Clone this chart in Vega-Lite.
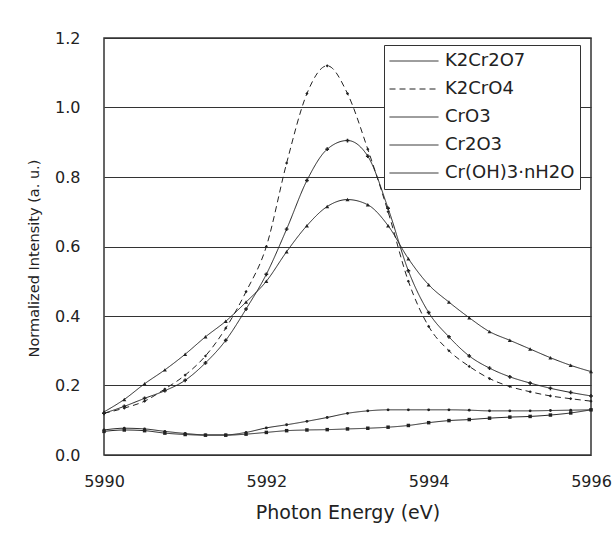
{
  "$schema": "https://vega.github.io/schema/vega-lite/v6.json",
  "autosize": {"type": "none"},
  "padding": {"left": 104, "top": 38, "right": 21, "bottom": 82},
  "width": 487,
  "height": 417,
  "background": "white",
  "config": {
    "font": "DejaVu Sans",
    "view": {"stroke": "#333", "strokeWidth": 1.5},
    "axis": {"labelColor": "#222", "titleColor": "#222", "labelFont": "DejaVu Sans", "titleFont": "DejaVu Sans", "titleFontWeight": "normal", "labelFontSize": 16}
  },
  "data": {"values": [
    {"series": "K2Cr2O7", "x": 5990, "y": 0.12},
    {"series": "K2Cr2O7", "x": 5990.25, "y": 0.14},
    {"series": "K2Cr2O7", "x": 5990.5, "y": 0.163},
    {"series": "K2Cr2O7", "x": 5990.75, "y": 0.185},
    {"series": "K2Cr2O7", "x": 5991, "y": 0.215},
    {"series": "K2Cr2O7", "x": 5991.25, "y": 0.265},
    {"series": "K2Cr2O7", "x": 5991.5, "y": 0.33},
    {"series": "K2Cr2O7", "x": 5991.75, "y": 0.42},
    {"series": "K2Cr2O7", "x": 5992, "y": 0.52},
    {"series": "K2Cr2O7", "x": 5992.25, "y": 0.65},
    {"series": "K2Cr2O7", "x": 5992.5, "y": 0.79},
    {"series": "K2Cr2O7", "x": 5992.75, "y": 0.88},
    {"series": "K2Cr2O7", "x": 5993, "y": 0.905},
    {"series": "K2Cr2O7", "x": 5993.25, "y": 0.86},
    {"series": "K2Cr2O7", "x": 5993.5, "y": 0.71},
    {"series": "K2Cr2O7", "x": 5993.75, "y": 0.53},
    {"series": "K2Cr2O7", "x": 5994, "y": 0.41},
    {"series": "K2Cr2O7", "x": 5994.25, "y": 0.34},
    {"series": "K2Cr2O7", "x": 5994.5, "y": 0.285},
    {"series": "K2Cr2O7", "x": 5994.75, "y": 0.25},
    {"series": "K2Cr2O7", "x": 5995, "y": 0.225},
    {"series": "K2Cr2O7", "x": 5995.25, "y": 0.207},
    {"series": "K2Cr2O7", "x": 5995.5, "y": 0.192},
    {"series": "K2Cr2O7", "x": 5995.75, "y": 0.18},
    {"series": "K2Cr2O7", "x": 5996, "y": 0.17},

    {"series": "K2CrO4", "x": 5990, "y": 0.12},
    {"series": "K2CrO4", "x": 5990.25, "y": 0.135},
    {"series": "K2CrO4", "x": 5990.5, "y": 0.155},
    {"series": "K2CrO4", "x": 5990.75, "y": 0.19},
    {"series": "K2CrO4", "x": 5991, "y": 0.23},
    {"series": "K2CrO4", "x": 5991.25, "y": 0.285},
    {"series": "K2CrO4", "x": 5991.5, "y": 0.365},
    {"series": "K2CrO4", "x": 5991.75, "y": 0.47},
    {"series": "K2CrO4", "x": 5992, "y": 0.6},
    {"series": "K2CrO4", "x": 5992.25, "y": 0.84},
    {"series": "K2CrO4", "x": 5992.5, "y": 1.04},
    {"series": "K2CrO4", "x": 5992.75, "y": 1.12},
    {"series": "K2CrO4", "x": 5993, "y": 1.04},
    {"series": "K2CrO4", "x": 5993.25, "y": 0.88},
    {"series": "K2CrO4", "x": 5993.5, "y": 0.7},
    {"series": "K2CrO4", "x": 5993.75, "y": 0.5},
    {"series": "K2CrO4", "x": 5994, "y": 0.37},
    {"series": "K2CrO4", "x": 5994.25, "y": 0.3},
    {"series": "K2CrO4", "x": 5994.5, "y": 0.255},
    {"series": "K2CrO4", "x": 5994.75, "y": 0.22},
    {"series": "K2CrO4", "x": 5995, "y": 0.197},
    {"series": "K2CrO4", "x": 5995.25, "y": 0.182},
    {"series": "K2CrO4", "x": 5995.5, "y": 0.17},
    {"series": "K2CrO4", "x": 5995.75, "y": 0.162},
    {"series": "K2CrO4", "x": 5996, "y": 0.155},

    {"series": "CrO3", "x": 5990, "y": 0.124},
    {"series": "CrO3", "x": 5990.25, "y": 0.16},
    {"series": "CrO3", "x": 5990.5, "y": 0.205},
    {"series": "CrO3", "x": 5990.75, "y": 0.245},
    {"series": "CrO3", "x": 5991, "y": 0.29},
    {"series": "CrO3", "x": 5991.25, "y": 0.34},
    {"series": "CrO3", "x": 5991.5, "y": 0.385},
    {"series": "CrO3", "x": 5991.75, "y": 0.44},
    {"series": "CrO3", "x": 5992, "y": 0.5},
    {"series": "CrO3", "x": 5992.25, "y": 0.585},
    {"series": "CrO3", "x": 5992.5, "y": 0.66},
    {"series": "CrO3", "x": 5992.75, "y": 0.715},
    {"series": "CrO3", "x": 5993, "y": 0.735},
    {"series": "CrO3", "x": 5993.25, "y": 0.72},
    {"series": "CrO3", "x": 5993.5, "y": 0.66},
    {"series": "CrO3", "x": 5993.75, "y": 0.565},
    {"series": "CrO3", "x": 5994, "y": 0.49},
    {"series": "CrO3", "x": 5994.25, "y": 0.44},
    {"series": "CrO3", "x": 5994.5, "y": 0.395},
    {"series": "CrO3", "x": 5994.75, "y": 0.355},
    {"series": "CrO3", "x": 5995, "y": 0.33},
    {"series": "CrO3", "x": 5995.25, "y": 0.305},
    {"series": "CrO3", "x": 5995.5, "y": 0.28},
    {"series": "CrO3", "x": 5995.75, "y": 0.258},
    {"series": "CrO3", "x": 5996, "y": 0.24},

    {"series": "Cr2O3", "x": 5990, "y": 0.072},
    {"series": "Cr2O3", "x": 5990.25, "y": 0.077},
    {"series": "Cr2O3", "x": 5990.5, "y": 0.075},
    {"series": "Cr2O3", "x": 5990.75, "y": 0.068},
    {"series": "Cr2O3", "x": 5991, "y": 0.062},
    {"series": "Cr2O3", "x": 5991.25, "y": 0.058},
    {"series": "Cr2O3", "x": 5991.5, "y": 0.058},
    {"series": "Cr2O3", "x": 5991.75, "y": 0.065},
    {"series": "Cr2O3", "x": 5992, "y": 0.078},
    {"series": "Cr2O3", "x": 5992.25, "y": 0.087},
    {"series": "Cr2O3", "x": 5992.5, "y": 0.097},
    {"series": "Cr2O3", "x": 5992.75, "y": 0.108},
    {"series": "Cr2O3", "x": 5993, "y": 0.12},
    {"series": "Cr2O3", "x": 5993.25, "y": 0.127},
    {"series": "Cr2O3", "x": 5993.5, "y": 0.13},
    {"series": "Cr2O3", "x": 5993.75, "y": 0.13},
    {"series": "Cr2O3", "x": 5994, "y": 0.13},
    {"series": "Cr2O3", "x": 5994.25, "y": 0.13},
    {"series": "Cr2O3", "x": 5994.5, "y": 0.129},
    {"series": "Cr2O3", "x": 5994.75, "y": 0.127},
    {"series": "Cr2O3", "x": 5995, "y": 0.127},
    {"series": "Cr2O3", "x": 5995.25, "y": 0.127},
    {"series": "Cr2O3", "x": 5995.5, "y": 0.128},
    {"series": "Cr2O3", "x": 5995.75, "y": 0.129},
    {"series": "Cr2O3", "x": 5996, "y": 0.13},

    {"series": "Cr(OH)3·nH2O", "x": 5990, "y": 0.068},
    {"series": "Cr(OH)3·nH2O", "x": 5990.25, "y": 0.072},
    {"series": "Cr(OH)3·nH2O", "x": 5990.5, "y": 0.07},
    {"series": "Cr(OH)3·nH2O", "x": 5990.75, "y": 0.063},
    {"series": "Cr(OH)3·nH2O", "x": 5991, "y": 0.059},
    {"series": "Cr(OH)3·nH2O", "x": 5991.25, "y": 0.057},
    {"series": "Cr(OH)3·nH2O", "x": 5991.5, "y": 0.057},
    {"series": "Cr(OH)3·nH2O", "x": 5991.75, "y": 0.06},
    {"series": "Cr(OH)3·nH2O", "x": 5992, "y": 0.065},
    {"series": "Cr(OH)3·nH2O", "x": 5992.25, "y": 0.07},
    {"series": "Cr(OH)3·nH2O", "x": 5992.5, "y": 0.072},
    {"series": "Cr(OH)3·nH2O", "x": 5992.75, "y": 0.073},
    {"series": "Cr(OH)3·nH2O", "x": 5993, "y": 0.075},
    {"series": "Cr(OH)3·nH2O", "x": 5993.25, "y": 0.077},
    {"series": "Cr(OH)3·nH2O", "x": 5993.5, "y": 0.08},
    {"series": "Cr(OH)3·nH2O", "x": 5993.75, "y": 0.085},
    {"series": "Cr(OH)3·nH2O", "x": 5994, "y": 0.093},
    {"series": "Cr(OH)3·nH2O", "x": 5994.25, "y": 0.099},
    {"series": "Cr(OH)3·nH2O", "x": 5994.5, "y": 0.102},
    {"series": "Cr(OH)3·nH2O", "x": 5994.75, "y": 0.106},
    {"series": "Cr(OH)3·nH2O", "x": 5995, "y": 0.109},
    {"series": "Cr(OH)3·nH2O", "x": 5995.25, "y": 0.111},
    {"series": "Cr(OH)3·nH2O", "x": 5995.5, "y": 0.115},
    {"series": "Cr(OH)3·nH2O", "x": 5995.75, "y": 0.121},
    {"series": "Cr(OH)3·nH2O", "x": 5996, "y": 0.13}
  ]},
  "encoding": {
    "x": {"field": "x", "type": "quantitative",
      "scale": {"domain": [5990, 5996], "nice": false, "zero": false},
      "axis": {"title": "Photon Energy (eV)", "values": [5990, 5992, 5994, 5996], "format": "d", "grid": false, "domain": false,
        "ticks": false, "labelPadding": 18, "labelFlush": false,
        "titleFontSize": 19, "titleY": 63, "titleBaseline": "alphabetic"}},
    "y": {"field": "y", "type": "quantitative",
      "scale": {"domain": [0, 1.2], "nice": false},
      "axis": {"title": "Normalized Intensity (a. u.)", "values": [0, 0.2, 0.4, 0.6, 0.8, 1.0, 1.2], "format": ".1f",
        "grid": true, "gridColor": "#333", "gridWidth": 1.2, "gridOpacity": 1, "domain": false, "ticks": false,
        "labelPadding": 24, "titleFontSize": 14.5, "titleX": -70, "titleY": 220, "titleAlign": "center", "titleBaseline": "middle", "titleAngle": 270}}
  },
  "layer": [
    {
      "mark": {"type": "line", "interpolate": "monotone", "color": "#222", "strokeWidth": 1},
      "encoding": {
        "detail": {"field": "series"},
        "strokeDash": {"field": "series", "type": "nominal",
          "scale": {"domain": ["K2Cr2O7", "K2CrO4", "CrO3", "Cr2O3", "Cr(OH)3·nH2O"], "range": [[1, 0], [6, 4], [1, 0], [1, 0], [1, 0]]},
          "legend": {"orient": "none", "legendX": 280, "legendY": 7, "title": null, "strokeColor": "#333", "fillColor": "white",
            "padding": 5, "symbolType": "M-1,0H1", "symbolSize": 2400, "symbolStrokeWidth": 1, "symbolStrokeColor": "#222",
            "clipHeight": 22, "labelFontSize": 18, "labelFont": "DejaVu Sans", "labelColor": "#222", "labelOffset": 6, "rowPadding": 6, "labelLimit": 300}}
      }
    },
    {
      "transform": [{"filter": {"field": "series", "equal": "K2Cr2O7"}}],
      "mark": {"type": "point", "shape": "cross", "filled": true, "color": "#222", "size": 14, "opacity": 1}
    },
    {
      "transform": [{"filter": {"field": "series", "equal": "K2CrO4"}}],
      "mark": {"type": "point", "shape": "diamond", "filled": true, "color": "#222", "size": 10, "opacity": 1}
    },
    {
      "transform": [{"filter": {"field": "series", "equal": "CrO3"}}],
      "mark": {"type": "point", "shape": "triangle-up", "filled": true, "color": "#222", "size": 16, "opacity": 1}
    },
    {
      "transform": [{"filter": {"field": "series", "equal": "Cr2O3"}}],
      "mark": {"type": "point", "shape": "circle", "filled": true, "color": "#222", "size": 8, "opacity": 1}
    },
    {
      "transform": [{"filter": {"field": "series", "equal": "Cr(OH)3·nH2O"}}],
      "mark": {"type": "point", "shape": "square", "filled": true, "color": "#222", "size": 12, "opacity": 1}
    }
  ]
}
